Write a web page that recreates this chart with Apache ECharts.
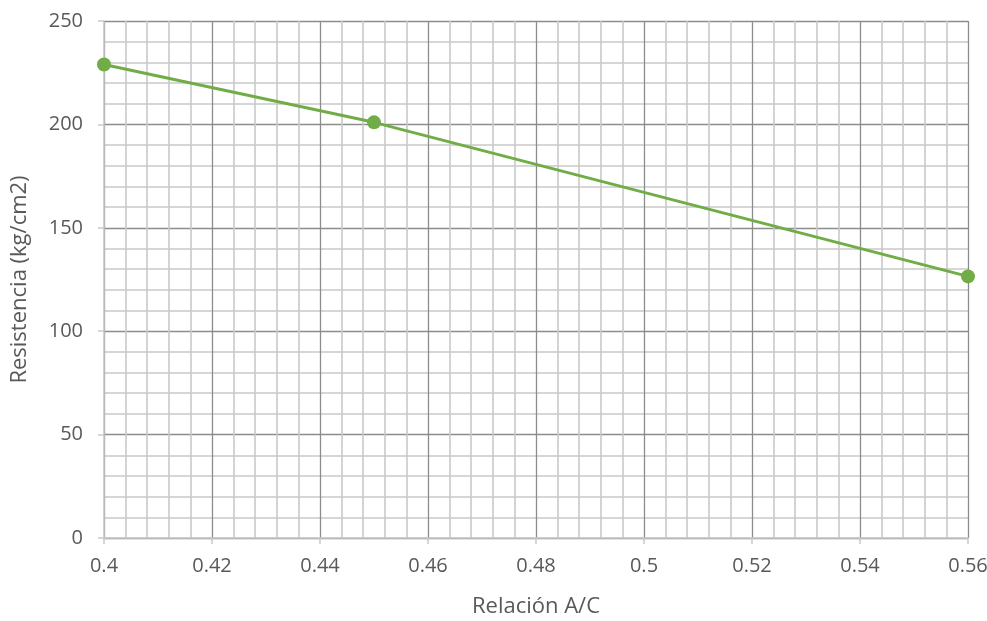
<!DOCTYPE html>
<html>
<head>
<meta charset="utf-8">
<script src="https://cdn.jsdelivr.net/npm/echarts@6/dist/echarts.min.js"></script>
<style>
  html, body { margin: 0; padding: 0; background: #fff; }
  #chart { width: 987px; height: 621px; }
</style>
</head>
<body>
<div id="chart"></div>
<script>
// Relación agua/cemento vs. resistencia a compresión
const relacionAC = [0.40, 0.45, 0.56];
const resistencia = [229, 201, 126.5];

const xAxisName = 'Relación A/C';
const yAxisName = 'Resistencia (kg/cm2)';

const FONT = '"Open Sans", "Liberation Sans", sans-serif';
const TEXT = '#595959';
const MAJOR = '#8c8c8c';
const MINOR = '#c9c9c9';

const chart = echarts.init(document.getElementById('chart'));
chart.setOption({
  animation: false,
  grid: { left: 104, right: 19, top: 21, bottom: 83, containLabel: false, outerBoundsMode: 'none' },
  xAxis: {
    type: 'value',
    min: 0.40, max: 0.56, interval: 0.02,
    name: xAxisName, nameLocation: 'middle', nameGap: 58,
    nameTextStyle: { color: TEXT, fontSize: 22, fontFamily: FONT },
    axisLine: { show: true, onZero: false, lineStyle: { color: MINOR, width: 1.5 } },
    axisTick: { show: true, length: 6, lineStyle: { color: MINOR, width: 1.5 } },
    axisLabel: { color: TEXT, fontSize: 20, fontFamily: FONT, margin: 18,
      formatter: v => String(parseFloat(v.toFixed(2))) },
    splitLine: { show: true, lineStyle: { color: MAJOR, width: 1.3 } },
    minorTick: { show: false, splitNumber: 5 },
    minorSplitLine: { show: true, lineStyle: { color: MINOR, width: 1.6 } }
  },
  yAxis: {
    type: 'value',
    min: 0, max: 250, interval: 50,
    name: yAxisName, nameLocation: 'middle', nameGap: 73,
    nameTextStyle: { color: TEXT, fontSize: 22, fontFamily: FONT },
    axisLine: { show: true, lineStyle: { color: MINOR, width: 1.5 } },
    axisTick: { show: true, length: 6, lineStyle: { color: MINOR, width: 1.5 } },
    axisLabel: { color: TEXT, fontSize: 20, fontFamily: FONT, margin: 21 },
    splitLine: { show: true, lineStyle: { color: MAJOR, width: 1.3 } },
    minorTick: { show: false, splitNumber: 5 },
    minorSplitLine: { show: true, lineStyle: { color: MINOR, width: 1.6 } }
  },
  series: [{
    type: 'line',
    data: relacionAC.map((x, i) => [x, resistencia[i]]),
    symbol: 'circle', symbolSize: 14,
    lineStyle: { color: '#70ad47', width: 3 },
    itemStyle: { color: '#70ad47' },
    clip: false
  }]
});
</script>
</body>
</html>
